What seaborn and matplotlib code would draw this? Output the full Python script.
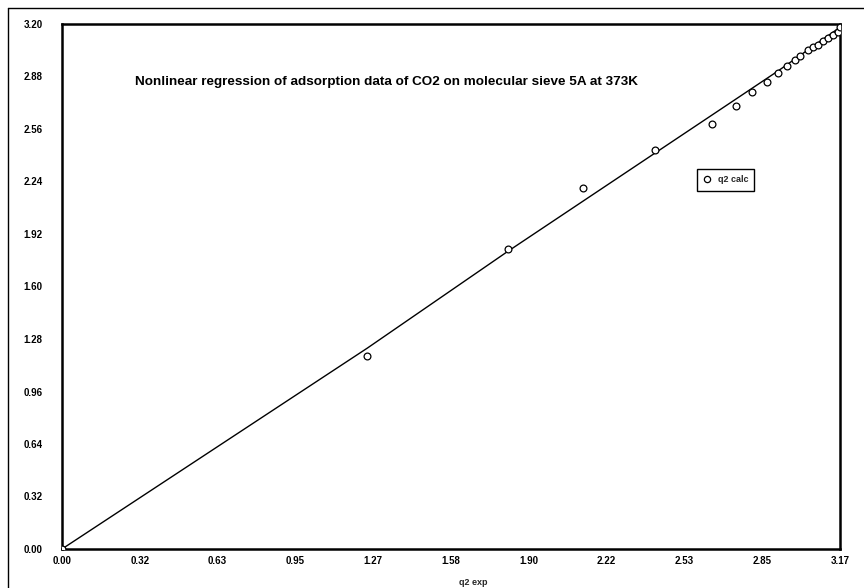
import matplotlib
matplotlib.use("Agg")
import matplotlib.pyplot as plt
import seaborn as sns
import pandas as pd
from matplotlib.lines import Line2D

# ---- data ----
q2_exp = [0.000, 1.243, 1.813, 2.119, 2.412, 2.645, 2.742, 2.808, 2.869, 2.914,
          2.951, 2.982, 3.005, 3.036, 3.058, 3.078, 3.098, 3.119, 3.139, 3.158, 3.166]
q2_calc = [0.000, 1.177, 1.829, 2.201, 2.433, 2.591, 2.700, 2.787, 2.848, 2.902,
           2.946, 2.981, 3.003, 3.040, 3.058, 3.075, 3.095, 3.112, 3.132, 3.152, 3.180]
# fitted line (passes through q2 exp values)
line_x = [0.000, 1.243, 1.813, 2.119, 2.412, 2.645, 2.742, 2.808, 2.869, 2.914, 3.166]
line_y = [0.000, 1.225, 1.813, 2.119, 2.412, 2.645, 2.742, 2.808, 2.869, 2.914, 3.180]

xticks = [0.00, 0.3166, 0.6332, 0.9498, 1.2664, 1.583, 1.8996, 2.2162, 2.5328, 2.8494, 3.166]
xticklabels = ["0.00", "0.32", "0.63", "0.95", "1.27", "1.58", "1.90", "2.22", "2.53", "2.85", "3.17"]
yticks = [0.00, 0.32, 0.64, 0.96, 1.28, 1.60, 1.92, 2.24, 2.56, 2.88, 3.20]
yticklabels = ["0.00", "0.32", "0.64", "0.96", "1.28", "1.60", "1.92", "2.24", "2.56", "2.88", "3.20"]

title = "Nonlinear regression of adsorption data of CO2 on molecular sieve 5A at 373K"
xlabel = "q2 exp"
legend_label = "q2 calc"

sns.set_style("white")
FAM = ["Liberation Sans Narrow", "Liberation Sans", "DejaVu Sans"]
plt.rcParams["font.family"] = FAM

fig = plt.figure(figsize=(8.64, 5.88), dpi=100)
ax = fig.add_axes([62/864, 39/588, 778/864, 525/588])

pts = pd.DataFrame({"x": q2_exp, "y": q2_calc})
lin = pd.DataFrame({"x": line_x, "y": line_y})

sns.lineplot(data=lin, x="x", y="y", ax=ax, color="black", linewidth=1.0,
             sort=False, estimator=None, legend=False)
sns.scatterplot(data=pts, x="x", y="y", ax=ax, marker="o", s=24,
                facecolor="white", edgecolor="black", linewidth=0.9, legend=False, zorder=3)

ax.set_xlim(0, 3.166)
ax.set_ylim(0, 3.2)
ax.set_xticks(xticks)
ax.set_xticklabels(xticklabels)
ax.set_yticks(yticks)
ax.set_yticklabels(yticklabels)
ax.tick_params(axis="both", direction="in", length=3, width=0.8, labelsize=7, colors="black")
ax.tick_params(axis="y", pad=14)
ax.tick_params(axis="x", pad=5)
for lbl in ax.get_xticklabels() + ax.get_yticklabels():
    lbl.set_fontweight("bold")
for sp in ax.spines.values():
    sp.set_visible(True)
    sp.set_color("black")
    sp.set_linewidth(1.8)

ax.set_xlabel(xlabel, fontsize=6.5, fontweight="bold", labelpad=1)
ax.xaxis.set_label_coords(0.529, -0.055)
ax.set_ylabel("")

ax.text(0.094, 0.889, title, transform=ax.transAxes, fontsize=9.7, fontweight="bold",
        ha="left", va="center", color="black")

handle = Line2D([], [], linestyle="none", marker="o", markersize=4.5,
                markerfacecolor="white", markeredgecolor="black", markeredgewidth=0.9)
leg = ax.legend([handle], [legend_label], loc="upper left", bbox_to_anchor=(0.816, 0.724),
                borderaxespad=0, fancybox=False, framealpha=1, edgecolor="black",
                prop={"size": 6.5, "weight": "bold", "family": FAM},
                handletextpad=0.8, borderpad=0.7, handlelength=0.8)
leg.get_frame().set_linewidth(1.0)

# outer chart-area border
fig.add_artist(Line2D([8/864, 8/864], [0, 1 - 8/588], transform=fig.transFigure, color="black", linewidth=1.0))
fig.add_artist(Line2D([8/864, 1], [1 - 8/588, 1 - 8/588], transform=fig.transFigure, color="black", linewidth=1.0))

fig.savefig("out.png", dpi=100)
